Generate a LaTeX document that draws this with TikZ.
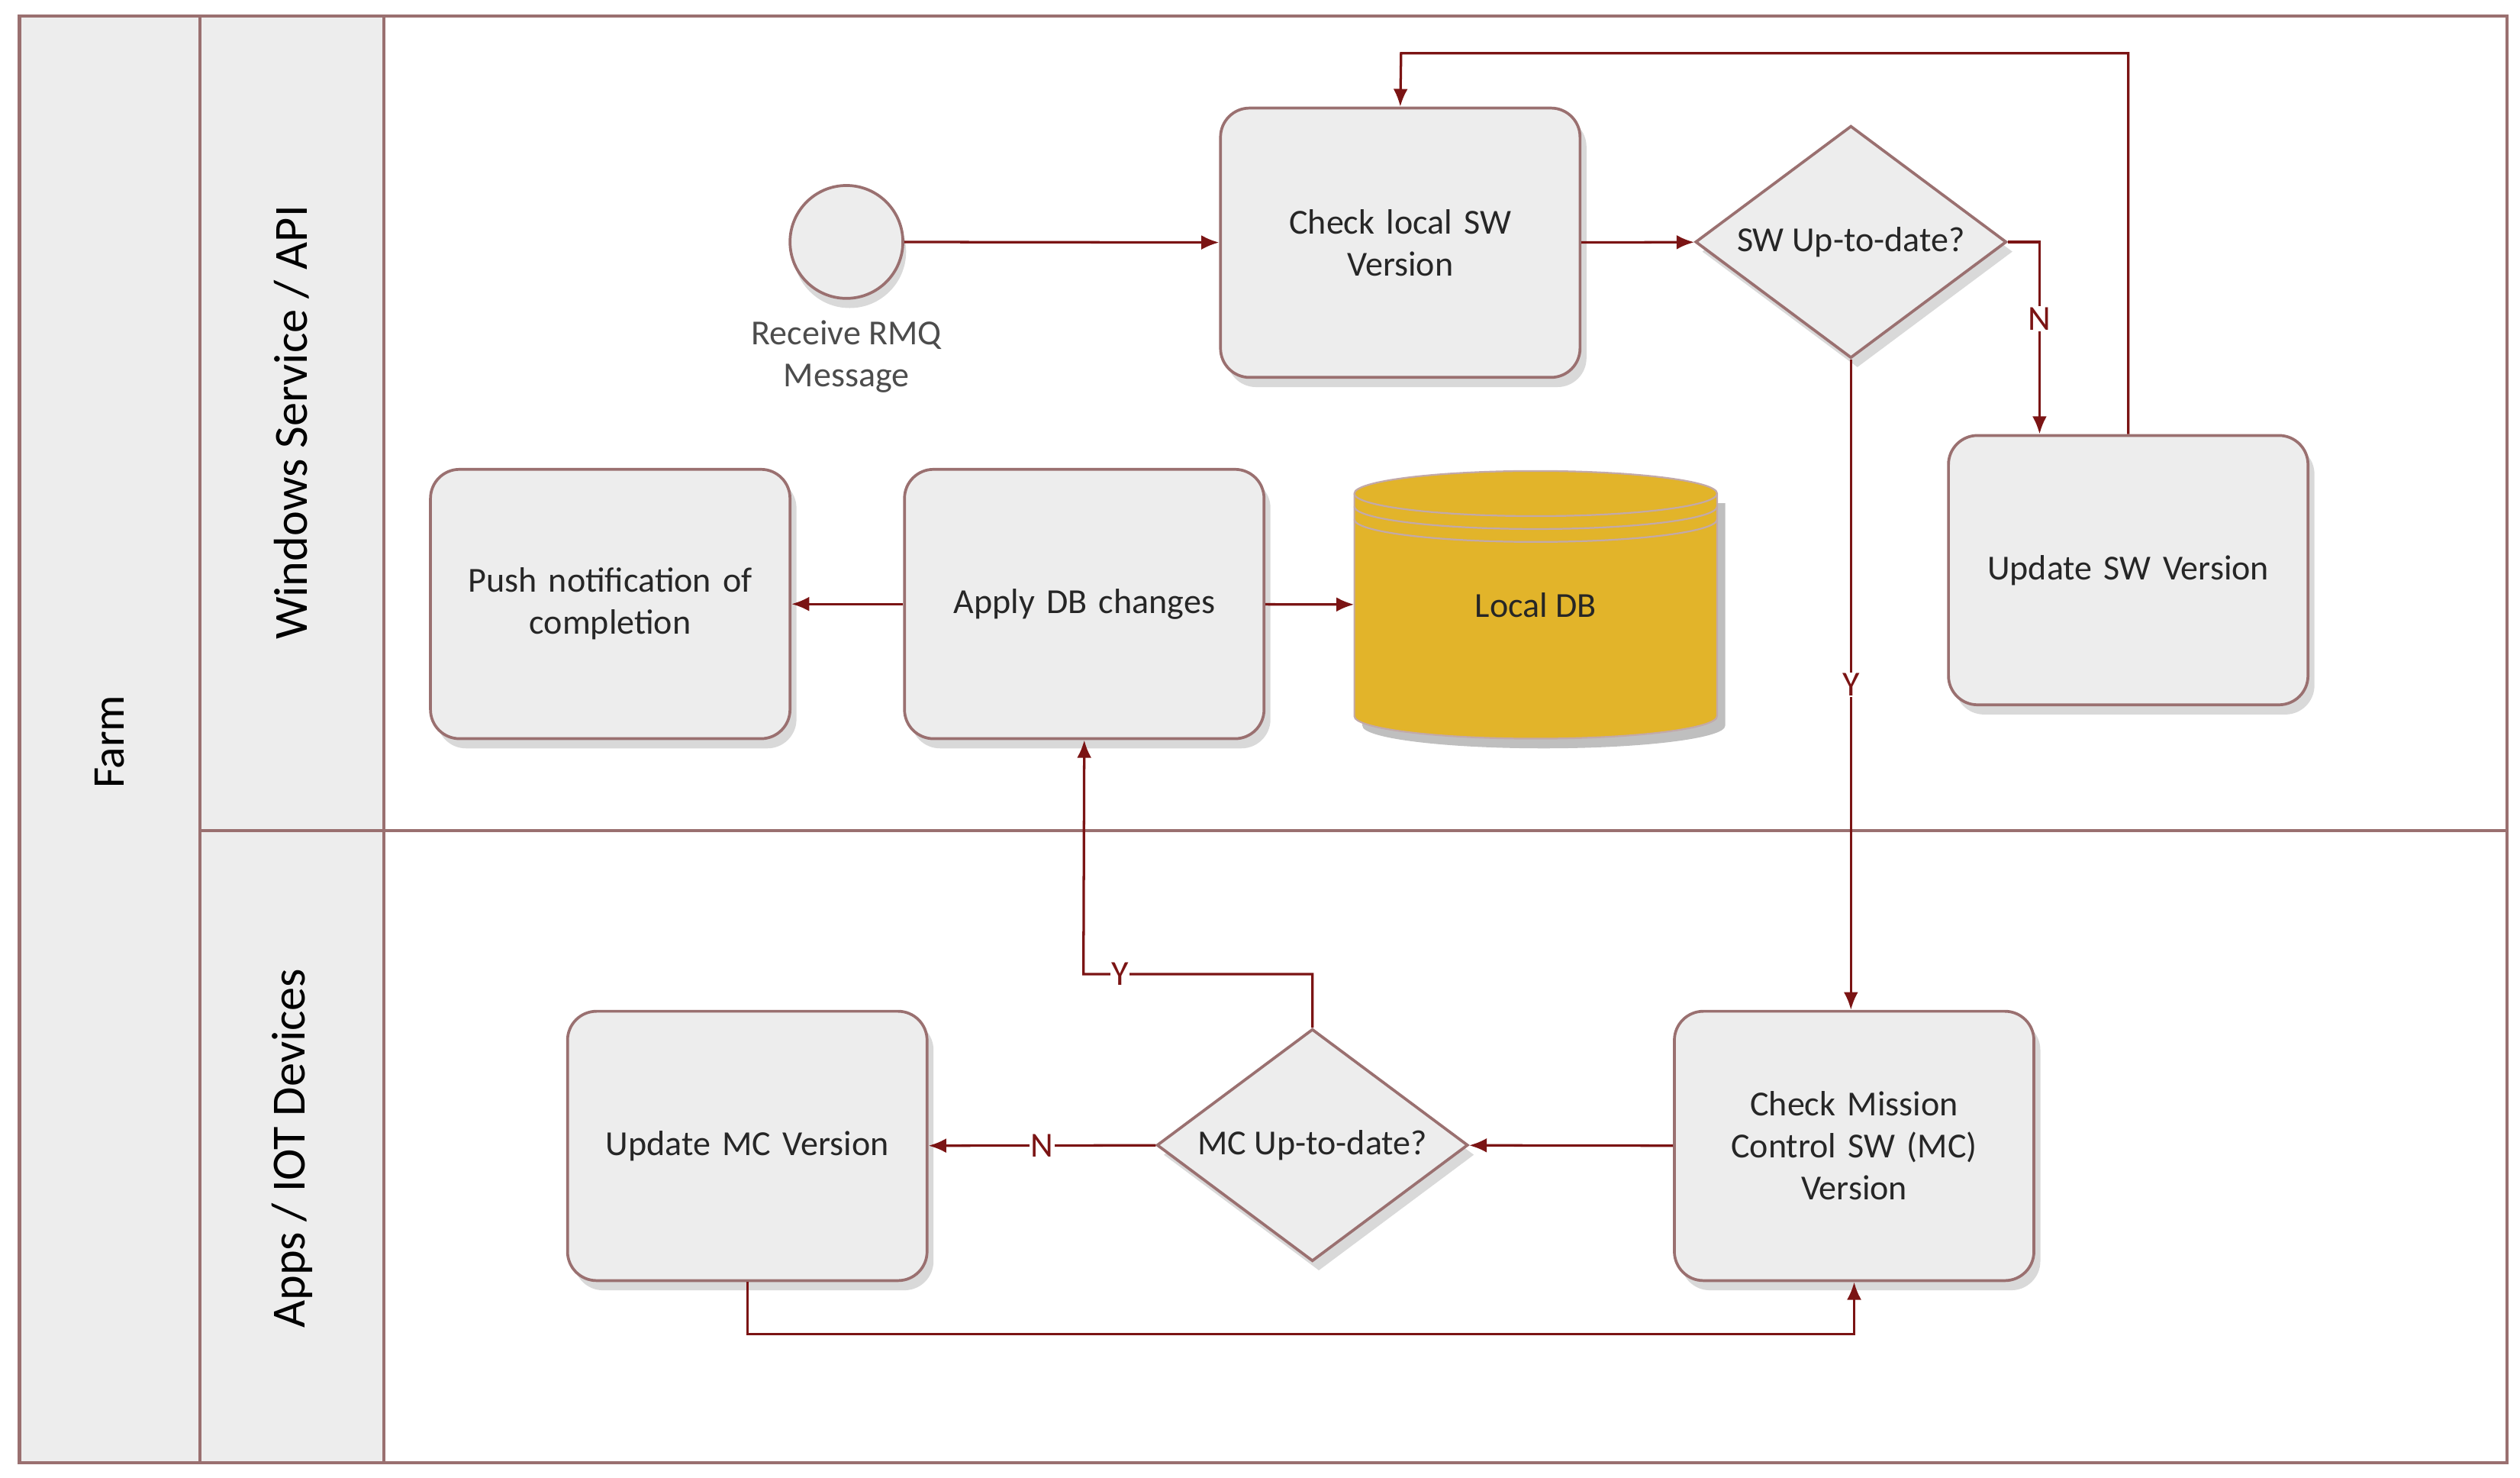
\documentclass[tikz,border=0pt]{standalone}
\usepackage{fontspec}
\setmainfont{Carlito}
\usetikzlibrary{shapes.geometric,arrows.meta,shadows}
\definecolor{bord}{HTML}{9A7070}
\definecolor{arr}{HTML}{7B1414}
\definecolor{boxf}{HTML}{EDEDED}
\definecolor{dbf}{HTML}{E2B42A}
\begin{document}
\begin{tikzpicture}[x=0.05cm,y=-0.05cm,
  txt/.style={font=\fontsize{31}{37}\selectfont,text=black!85},
  box/.style={txt,draw=bord,line width=2.5pt,fill=boxf,rounded corners=0.9cm,minimum width=11.15cm,minimum height=8.35cm,align=center,text width=10.5cm,drop shadow={opacity=0.3,shadow xshift=0.2cm,shadow yshift=-0.3cm}},
  dia/.style={txt,draw=bord,line width=2.5pt,fill=boxf,diamond,minimum width=9.65cm,minimum height=7.2cm,inner sep=0pt,aspect=1.34,drop shadow={opacity=0.3,shadow xshift=0.2cm,shadow yshift=-0.3cm}},
  con/.style={draw=arr,line width=2.2pt,-{Latex[length=0.55cm,width=0.45cm]}},
  lab/.style={txt,fill=white,inner sep=1pt,text=arr},
  lane/.style={draw=bord,line width=3pt,fill=boxf}]
\useasboundingbox (0,0) rectangle (1563,916);
% lanes
\draw[lane] (12,10) rectangle (124,907);
\draw[lane] (124,10) rectangle (238,907);
\draw[draw=bord,line width=3pt] (238,10) rectangle (1555,907);
\draw[draw=bord,line width=3pt] (124,515) -- (1555,515);
\node[rotate=90,font=\fontsize{40}{44}\selectfont] (farm) at (68,460) {Farm};
\node[rotate=90,font=\fontsize{42}{46}\selectfont] (l1) at (181,262) {Windows Service / API};
\node[rotate=90,font=\fontsize{42}{46}\selectfont] (l2) at (181,712) {Apps / IOT Devices};
% nodes
\node[circle,draw=bord,line width=2.5pt,fill=boxf,minimum size=3.5cm,drop shadow={opacity=0.3,shadow xshift=0.1cm,shadow yshift=-0.3cm}] (start) at (525,150) {};
\node[txt,align=center,text=black!70] (startl) at (525,221) {Receive RMQ\\Message};
\node[box] (check) at (868.5,150.5) {Check local SW\\Version};
\node[dia] (swd) at (1148,150) {SW Up-to-date?};
\node[box] (upsw) at (1320,353.5) {Update SW Version};
\node[box] (push) at (378.5,374.5) {Push notification of\\completion};
\node[box] (apply) at (672.5,374.5) {Apply DB changes};
% DB cylinder
\fill[black,opacity=0.25] (845,312) -- (845,450) arc[start angle=180,end angle=0,x radius=112.5,y radius=14] -- (1070,312) -- cycle;
\fill[dbf,draw=bord!60,line width=1.5pt] (840,306) -- (840,444) arc[start angle=180,end angle=0,x radius=112.5,y radius=14] -- (1065,306) arc[start angle=0,end angle=-180,x radius=112.5,y radius=14];
\draw[bord!60,line width=1.5pt] (840,306) arc[start angle=180,end angle=0,x radius=112.5,y radius=14];
\draw[bord!60,line width=1.5pt] (840,314) arc[start angle=180,end angle=0,x radius=112.5,y radius=14];
\draw[bord!60,line width=1.5pt] (840,322) arc[start angle=180,end angle=0,x radius=112.5,y radius=14];
\node[txt,minimum width=11.25cm,minimum height=8.3cm] (db) at (952.5,375) {Local DB};
\node[box] (chkmc) at (1150,710.5) {Check Mission\\Control SW (MC)\\Version};
\node[dia] (mcd) at (814,710) {MC Up-to-date?};
\node[box] (upmc) at (463.5,710.5) {Update MC Version};
% connectors
\draw[con] (start) -- (check);
\draw[con] (check) -- (swd);
\draw[con] (swd.east) -| node[lab,pos=0.7]{N} (upsw.north -| 1265,0);
\draw[con] (upsw.north) |- (869,33) -- (check.north);
\draw[con] (swd.south) -- node[lab,pos=0.5]{Y} (chkmc.north -| swd.south);
\draw[con] (chkmc) -- (mcd);
\draw[con] (mcd) -- node[lab,pos=0.5]{N} (upmc);
\draw[con] (mcd.north) |- node[lab,pos=0.92]{Y} (672,604) -- (apply.south);
\draw[con] (upmc.south) |- (1150,827) -- (chkmc.south);
\draw[con] (apply) -- (push);
\draw[con] (apply) -- (db);
\end{tikzpicture}
\end{document}
